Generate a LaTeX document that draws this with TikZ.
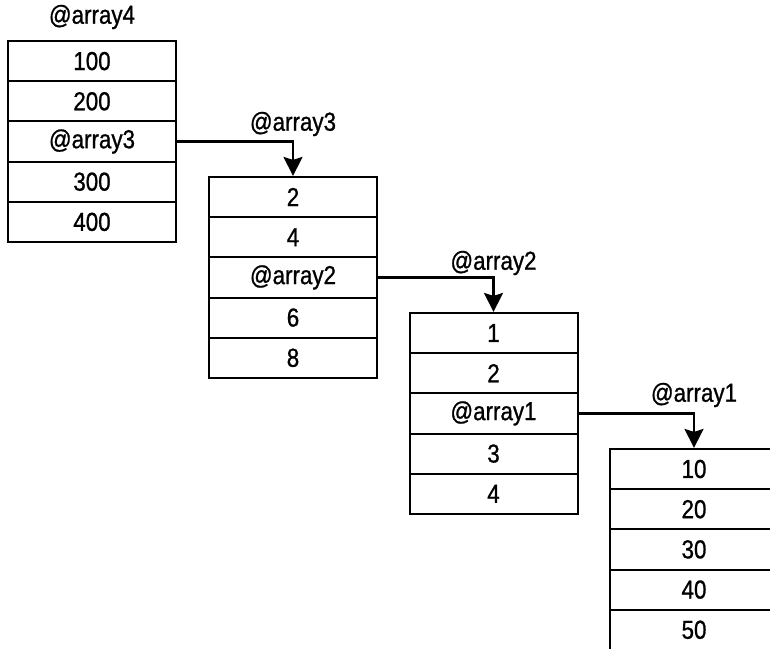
\documentclass[tikz,border=0pt]{standalone}
\usepackage{fontspec}
\setmainfont[FakeStretch=0.86,FakeBold=0.9]{Liberation Sans}
\usetikzlibrary{arrows.meta}
\begin{document}
\begin{tikzpicture}[x=1pt,y=-1pt,
  cell/.style={draw=black,line width=2pt,minimum width=168pt,minimum height=40.2pt,inner sep=0pt,anchor=center,font=\fontsize{26pt}{29pt}\selectfont},
  lbl/.style={inner sep=0pt,font=\fontsize{26pt}{29pt}\selectfont},
  link/.style={line width=2.2pt,-{Stealth[length=19pt,width=19pt,inset=3pt]}}]
\useasboundingbox (0,0) rectangle (770,648);
\clip (0,0) rectangle (770,648);
% array4
\node[lbl] (t4) at (92,17) {@array4};
\node[cell] (a4-1) at (92,61.1) {100};
\node[cell] (a4-2) at (92,101.3) {200};
\node[cell] (a4-3) at (92,141.5) {@array3};
\node[cell] (a4-4) at (92,181.7) {300};
\node[cell] (a4-5) at (92,221.9) {400};
% array3
\node[lbl] (t3) at (293,124) {@array3};
\node[cell] (a3-1) at (293,197) {2};
\node[cell] (a3-2) at (293,237.2) {4};
\node[cell] (a3-3) at (293,277.4) {@array2};
\node[cell] (a3-4) at (293,317.6) {6};
\node[cell] (a3-5) at (293,357.8) {8};
% array2
\node[lbl] (t2) at (493.5,263) {@array2};
\node[cell] (a2-1) at (493.5,333) {1};
\node[cell] (a2-2) at (493.5,373.2) {2};
\node[cell] (a2-3) at (493.5,413.4) {@array1};
\node[cell] (a2-4) at (493.5,453.6) {3};
\node[cell] (a2-5) at (493.5,493.8) {4};
% array1
\node[lbl] (t1) at (694,395) {@array1};
\node[cell] (a1-1) at (694,469) {10};
\node[cell] (a1-2) at (694,509.2) {20};
\node[cell] (a1-3) at (694,549.4) {30};
\node[cell] (a1-4) at (694,589.6) {40};
\node[cell] (a1-5) at (694,629.8) {50};
% links
\draw[link] (a4-3.east) -| (a3-1.north);
\draw[link] (a3-3.east) -| (a2-1.north);
\draw[link] (a2-3.east) -| (a1-1.north);
\end{tikzpicture}
\end{document}
